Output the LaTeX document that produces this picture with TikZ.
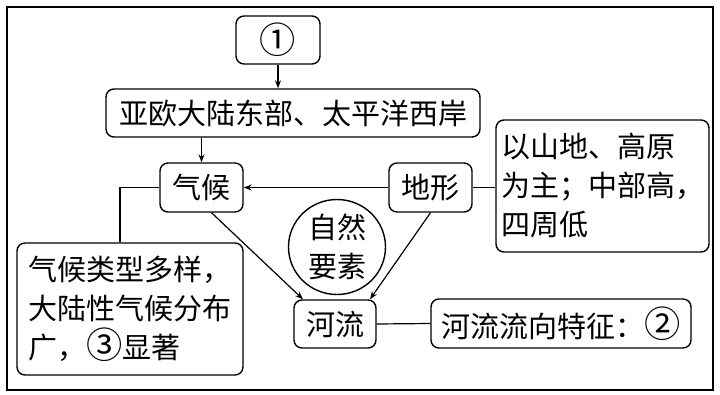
\documentclass[tikz,border=0pt]{standalone}
\usepackage{fontspec}
\setmainfont{Noto Sans CJK SC}
\usetikzlibrary{arrows.meta,shapes.geometric}
\newcommand{\circnum}[1]{\scalebox{1.25}{#1}}

\begin{document}
\begin{tikzpicture}[x=1pt,y=-1pt,
  box/.style={draw,rounded corners=8pt,line width=1.4pt,inner sep=0pt,font=\fontsize{29}{39}\selectfont},
  link/.style={line width=1.2pt},
  >={Stealth[length=8pt,width=6pt]}]
\useasboundingbox (0,0) rectangle (720,394);
\draw[line width=1.4pt] (7,7) rectangle (713,390);
\node[box,minimum width=84pt,minimum height=48pt] (a) at (278,40) {\circnum{①}};
\node[box,minimum width=374pt,minimum height=48pt] (b) at (293,113) {亚欧大陆东部、太平洋西岸};
\node[box,minimum width=83pt,minimum height=49pt] (c) at (201.5,187.5) {气候};
\node[box,minimum width=83pt,minimum height=49pt] (d) at (430.5,187.5) {地形};
\node[box,align=left,minimum width=213pt,minimum height=132pt] (e) at (602.5,186) {以山地、高原\\为主；中部高，\\四周低};
\node[box,align=left,minimum width=226pt,minimum height=132pt] (f) at (130,309) {气候类型多样，\\大陆性气候分布\\广，\circnum{③}显著};
\node[box,ellipse,align=center,minimum width=97pt,minimum height=95pt] (g) at (337,247) {自然\\要素};
\node[box,minimum width=82pt,minimum height=48pt] (h) at (335,324) {河流};
\node[box,minimum width=260pt,minimum height=49pt] (i) at (561,323.5) {河流流向特征：\circnum{②}};
\draw[link,->] (a.south) -- (a.south |- b.north);
\draw[link,->] (c.north |- b.south) -- (c.north);
\draw[link,->] (d.west) -- (c.east);
\draw[link] (e.west |- d.east) -- (d.east);
\draw[link] (c.west) -| ([xshift=-10pt]f.north);
\draw[link,->] ([xshift=10pt]c.south) -- ([xshift=-32pt]h.north);
\draw[link,->] (d.south) -- ([xshift=35pt]h.north);
\draw[link] (h.east) -- (i.west);
\end{tikzpicture}
\end{document}
